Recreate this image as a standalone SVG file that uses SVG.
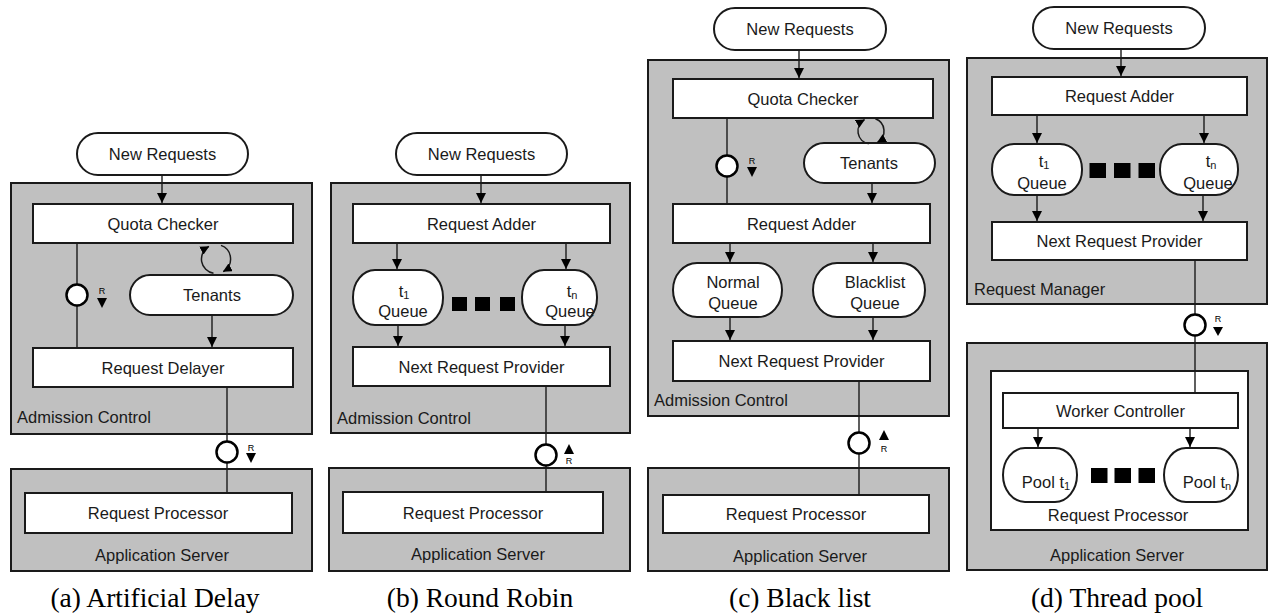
<svg xmlns="http://www.w3.org/2000/svg" width="1268" height="614" viewBox="0 0 1268 614">
  <style>
    .container { fill: #c0c0c0; stroke: #1a1a1a; stroke-width: 2; }
    .box { fill: #ffffff; stroke: #1a1a1a; stroke-width: 2; }
    .pill { fill: #ffffff; stroke: #1a1a1a; stroke-width: 2; }
    .lbl { font-family: "Liberation Sans", Arial, sans-serif; font-size: 16.5px; fill: #1a1a1a; }
    .mid { text-anchor: middle; }
    .sub { font-size: 11px; }
    .tiny { font-family: "Liberation Sans", Arial, sans-serif; font-size: 9px; fill: #000; text-anchor: middle; }
    .cap { font-family: "Liberation Serif", "Times New Roman", serif; font-size: 27.5px; fill: #000; text-anchor: middle; }
    .wire { fill: none; stroke: #1a1a1a; stroke-width: 1.4; }
    .flow { fill: none; stroke: #1a1a1a; stroke-width: 1.4; marker-end: url(#arrow); }
    .loop { fill: none; stroke: #1a1a1a; stroke-width: 1.5; marker-end: url(#arrowSmall); }
    .iface { fill: #ffffff; stroke: #000; stroke-width: 2.5; }
    .dot { fill: #000; }
  </style>
  <defs>
    <marker id="arrow" markerUnits="userSpaceOnUse" markerWidth="11" markerHeight="11" refX="10" refY="5" orient="auto">
      <path d="M0,0 L10,5 L0,10 z" fill="#000"/>
    </marker>
    <marker id="arrowSmall" markerUnits="userSpaceOnUse" markerWidth="10" markerHeight="10" refX="8.5" refY="4.5" orient="auto">
      <path d="M0,0 L9,4.5 L0,9 z" fill="#000"/>
    </marker>
  </defs>

  <rect width="1268" height="614" fill="#ffffff"/>

  <!-- ===== (a) Artificial Delay ===== -->
  <g id="a-admission-control">
    <rect class="container" x="11" y="183" width="301" height="251"/>
    <text class="lbl" x="17" y="423">Admission Control</text>
  </g>
  <g id="a-application-server">
    <rect class="container" x="11" y="469" width="301" height="102"/>
    <text class="lbl mid" x="162" y="561">Application Server</text>
  </g>
  <g id="a-new-requests">
    <rect class="pill" x="77" y="133" width="171" height="42" rx="21"/>
    <text class="lbl mid" x="162.5" y="160">New Requests</text>
  </g>
  <g id="a-quota-checker">
    <rect class="box" x="33" y="204" width="260" height="39"/>
    <text class="lbl mid" x="163" y="229.5">Quota Checker</text>
  </g>
  <g id="a-tenants">
    <rect class="pill" x="130" y="275" width="163" height="40" rx="20"/>
    <text class="lbl mid" x="212" y="301">Tenants</text>
  </g>
  <g id="a-request-delayer">
    <rect class="box" x="33" y="348" width="260" height="39"/>
    <text class="lbl mid" x="163" y="373.5">Request Delayer</text>
  </g>
  <g id="a-request-processor">
    <rect class="box" x="25" y="493" width="267" height="40"/>
    <text class="lbl mid" x="158" y="519">Request Processor</text>
  </g>
  <text class="cap" x="155" y="607">(a) Artificial Delay</text>

  <!-- ===== (b) Round Robin ===== -->
  <g id="b-admission-control">
    <rect class="container" x="331" y="183" width="299" height="250"/>
    <text class="lbl" x="337" y="424">Admission Control</text>
  </g>
  <g id="b-application-server">
    <rect class="container" x="329" y="468" width="301" height="103"/>
    <text class="lbl mid" x="478" y="560">Application Server</text>
  </g>
  <g id="b-new-requests">
    <rect class="pill" x="396" y="133" width="171" height="42" rx="21"/>
    <text class="lbl mid" x="481.5" y="160">New Requests</text>
  </g>
  <g id="b-request-adder">
    <rect class="box" x="353" y="204" width="257" height="39"/>
    <text class="lbl mid" x="481.5" y="229.5">Request Adder</text>
  </g>
  <g id="b-queue-t1">
    <rect class="pill" x="353" y="270" width="90" height="55" rx="22" ry="27"/>
    <text class="lbl mid" x="404" y="297">t<tspan class="sub" dy="2">1</tspan></text>
    <text class="lbl mid" x="403" y="317">Queue</text>
  </g>
  <g id="b-queue-tn">
    <rect class="pill" x="522" y="270" width="75" height="55" rx="22" ry="27"/>
    <text class="lbl mid" x="572" y="297">t<tspan class="sub" dy="2">n</tspan></text>
    <text class="lbl mid" x="570" y="317">Queue</text>
  </g>
  <g id="b-ellipsis">
    <rect class="dot" x="452" y="297" width="15" height="14"/>
    <rect class="dot" x="475" y="297" width="15" height="14"/>
    <rect class="dot" x="500" y="297" width="15" height="14"/>
  </g>
  <g id="b-next-request-provider">
    <rect class="box" x="353" y="347" width="257" height="39"/>
    <text class="lbl mid" x="481.5" y="372.5">Next Request Provider</text>
  </g>
  <g id="b-request-processor">
    <rect class="box" x="343" y="492" width="260" height="41"/>
    <text class="lbl mid" x="473" y="518.5">Request Processor</text>
  </g>
  <text class="cap" x="480" y="607">(b) Round Robin</text>

  <!-- ===== (c) Black list ===== -->
  <g id="c-admission-control">
    <rect class="container" x="648" y="60" width="301" height="356"/>
    <text class="lbl" x="654" y="406">Admission Control</text>
  </g>
  <g id="c-application-server">
    <rect class="container" x="648" y="468" width="301" height="103"/>
    <text class="lbl mid" x="800" y="562">Application Server</text>
  </g>
  <g id="c-new-requests">
    <rect class="pill" x="714" y="8" width="172" height="42" rx="21"/>
    <text class="lbl mid" x="800" y="35">New Requests</text>
  </g>
  <g id="c-quota-checker">
    <rect class="box" x="673" y="79" width="260" height="39"/>
    <text class="lbl mid" x="803" y="104.5">Quota Checker</text>
  </g>
  <g id="c-tenants">
    <rect class="pill" x="804" y="143" width="131" height="40" rx="20"/>
    <text class="lbl mid" x="869" y="169">Tenants</text>
  </g>
  <g id="c-request-adder">
    <rect class="box" x="673" y="204" width="257" height="39"/>
    <text class="lbl mid" x="801.5" y="229.5">Request Adder</text>
  </g>
  <g id="c-normal-queue">
    <rect class="pill" x="673" y="263" width="109" height="54" rx="24" ry="27"/>
    <text class="lbl mid" x="733" y="288">Normal</text>
    <text class="lbl mid" x="733" y="309">Queue</text>
  </g>
  <g id="c-blacklist-queue">
    <rect class="pill" x="813" y="263" width="112" height="54" rx="24" ry="27"/>
    <text class="lbl mid" x="875" y="288">Blacklist</text>
    <text class="lbl mid" x="875" y="309">Queue</text>
  </g>
  <g id="c-next-request-provider">
    <rect class="box" x="673" y="341" width="257" height="40"/>
    <text class="lbl mid" x="801.5" y="367">Next Request Provider</text>
  </g>
  <g id="c-request-processor">
    <rect class="box" x="663" y="495" width="266" height="38"/>
    <text class="lbl mid" x="796" y="520">Request Processor</text>
  </g>
  <text class="cap" x="800" y="607">(c) Black list</text>

  <!-- ===== (d) Thread pool ===== -->
  <g id="d-request-manager">
    <rect class="container" x="967" y="58" width="300" height="246"/>
    <text class="lbl" x="974" y="295">Request Manager</text>
  </g>
  <g id="d-application-server">
    <rect class="container" x="967" y="343" width="300" height="227"/>
    <text class="lbl mid" x="1117" y="561">Application Server</text>
  </g>
  <g id="d-request-processor">
    <rect class="box" x="991" y="371" width="257" height="159"/>
    <text class="lbl mid" x="1118" y="521">Request Processor</text>
  </g>
  <g id="d-new-requests">
    <rect class="pill" x="1033" y="7" width="172" height="42" rx="21"/>
    <text class="lbl mid" x="1119" y="34">New Requests</text>
  </g>
  <g id="d-request-adder">
    <rect class="box" x="992" y="77" width="255" height="38"/>
    <text class="lbl mid" x="1119.5" y="102">Request Adder</text>
  </g>
  <g id="d-queue-t1">
    <rect class="pill" x="992" y="144" width="90" height="51" rx="22" ry="25"/>
    <text class="lbl mid" x="1044" y="167">t<tspan class="sub" dy="2">1</tspan></text>
    <text class="lbl mid" x="1042" y="189">Queue</text>
  </g>
  <g id="d-queue-tn">
    <rect class="pill" x="1160" y="144" width="78" height="51" rx="22" ry="25"/>
    <text class="lbl mid" x="1211" y="167">t<tspan class="sub" dy="2">n</tspan></text>
    <text class="lbl mid" x="1208" y="189">Queue</text>
  </g>
  <g id="d-queue-ellipsis">
    <rect class="dot" x="1089.5" y="163" width="16.5" height="15"/>
    <rect class="dot" x="1114" y="163" width="16.5" height="15"/>
    <rect class="dot" x="1138.5" y="163" width="16.5" height="15"/>
  </g>
  <g id="d-next-request-provider">
    <rect class="box" x="992" y="222" width="255" height="38"/>
    <text class="lbl mid" x="1119.5" y="247">Next Request Provider</text>
  </g>
  <g id="d-worker-controller">
    <rect class="box" x="1003" y="393" width="235" height="35"/>
    <text class="lbl mid" x="1120.5" y="416.5">Worker Controller</text>
  </g>
  <g id="d-pool-t1">
    <rect class="pill" x="1003" y="448" width="74" height="54" rx="22" ry="27"/>
    <text class="lbl mid" x="1046" y="488">Pool t<tspan class="sub" dy="2">1</tspan></text>
  </g>
  <g id="d-pool-tn">
    <rect class="pill" x="1164" y="448" width="74" height="54" rx="22" ry="27"/>
    <text class="lbl mid" x="1207" y="488">Pool t<tspan class="sub" dy="2">n</tspan></text>
  </g>
  <g id="d-pool-ellipsis">
    <rect class="dot" x="1091" y="468" width="16.5" height="15"/>
    <rect class="dot" x="1114.5" y="468" width="16.5" height="15"/>
    <rect class="dot" x="1138.5" y="468" width="16.5" height="15"/>
  </g>
  <text class="cap" x="1117" y="607">(d) Thread pool</text>

  <!-- ===== connectors ===== -->
  <g id="connectors">
    <!-- (a) -->
    <line class="flow" x1="162" y1="175" x2="162" y2="203"/>
    <line class="wire" x1="77" y1="243" x2="77" y2="348"/>
    <line class="flow" x1="212" y1="315" x2="212" y2="347"/>
    <path class="loop" d="M213.5,273.3 A14.5,14.5 0 0 1 208.8,246.4"/>
    <path class="loop" d="M221,245.4 A14.5,14.5 0 0 1 223.3,271.6"/>
    <line class="wire" x1="227" y1="387" x2="227" y2="493"/>

    <!-- (b) -->
    <line class="flow" x1="481" y1="175" x2="481" y2="203"/>
    <line class="flow" x1="397" y1="243" x2="397" y2="269"/>
    <line class="flow" x1="566" y1="243" x2="566" y2="269"/>
    <line class="flow" x1="398" y1="325" x2="398" y2="346"/>
    <line class="flow" x1="565" y1="325" x2="565" y2="346"/>
    <line class="wire" x1="546" y1="386" x2="546" y2="492"/>

    <!-- (c) -->
    <line class="flow" x1="799" y1="50" x2="799" y2="78"/>
    <line class="wire" x1="727" y1="118" x2="727" y2="204"/>
    <path class="loop" d="M868.7,143.8 A13,13 0 0 1 864.5,119.7"/>
    <path class="loop" d="M875.4,118.8 A13,13 0 0 1 877.5,142.3"/>
    <line class="flow" x1="872" y1="183" x2="872" y2="203"/>
    <line class="flow" x1="730" y1="243" x2="730" y2="262"/>
    <line class="flow" x1="873" y1="243" x2="873" y2="262"/>
    <line class="flow" x1="730" y1="317" x2="730" y2="340"/>
    <line class="flow" x1="873" y1="317" x2="873" y2="340"/>
    <line class="wire" x1="859" y1="381" x2="859" y2="495"/>

    <!-- (d) -->
    <line class="flow" x1="1121" y1="49" x2="1121" y2="76"/>
    <line class="flow" x1="1037" y1="115" x2="1037" y2="143"/>
    <line class="flow" x1="1204" y1="115" x2="1204" y2="143"/>
    <line class="flow" x1="1037" y1="195" x2="1037" y2="221"/>
    <line class="flow" x1="1203" y1="195" x2="1203" y2="221"/>
    <line class="wire" x1="1195" y1="260" x2="1195" y2="393"/>
    <line class="flow" x1="1038" y1="428" x2="1038" y2="447"/>
    <line class="flow" x1="1190" y1="428" x2="1190" y2="447"/>

    <!-- request interfaces with direction of R -->
    <circle class="iface" cx="77" cy="295" r="10.5"/>
    <text class="tiny" x="102" y="294">R</text>
    <path d="M97,298 L107,298 L102,308 z" fill="#000"/>

    <circle class="iface" cx="227" cy="452" r="10.5"/>
    <text class="tiny" x="251" y="451">R</text>
    <path d="M246,453 L256,453 L251,463 z" fill="#000"/>

    <circle class="iface" cx="546" cy="455" r="10.5"/>
    <path d="M564,454 L574,454 L569,444 z" fill="#000"/>
    <text class="tiny" x="569" y="464">R</text>

    <circle class="iface" cx="727" cy="166" r="10.5"/>
    <text class="tiny" x="752" y="164">R</text>
    <path d="M747,167 L757,167 L752,177 z" fill="#000"/>

    <circle class="iface" cx="859" cy="443" r="10.5"/>
    <path d="M879,440 L889,440 L884,430 z" fill="#000"/>
    <text class="tiny" x="884" y="452">R</text>

    <circle class="iface" cx="1195" cy="325" r="10.5"/>
    <text class="tiny" x="1218" y="322">R</text>
    <path d="M1213,327 L1223,327 L1218,336 z" fill="#000"/>
  </g>
</svg>
